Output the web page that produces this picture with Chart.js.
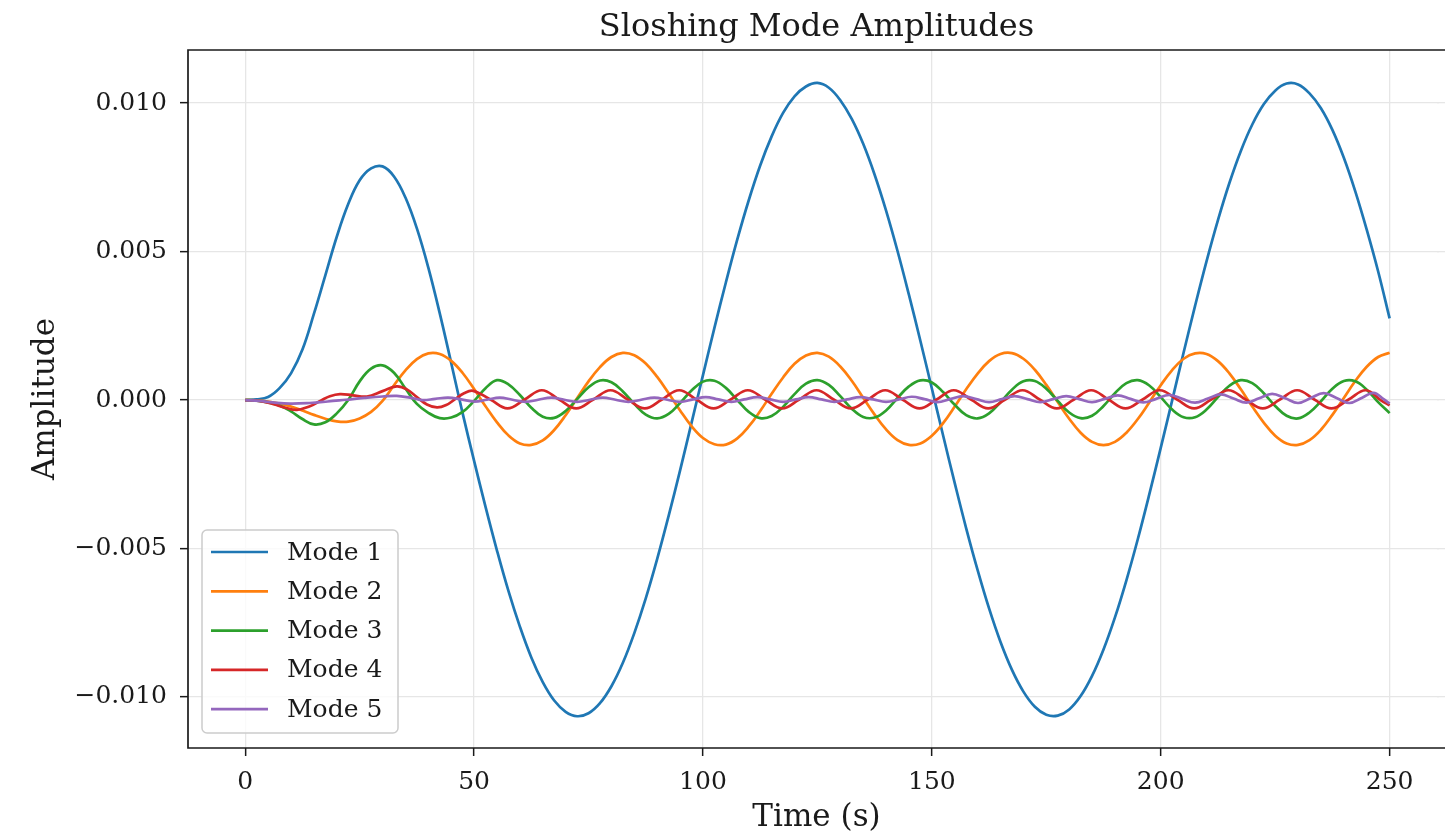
<!DOCTYPE html>
<html>
<head>
<meta charset="utf-8">
<script src="https://cdn.jsdelivr.net/npm/chart.js@4.4.1/dist/chart.umd.min.js"></script>
<style>
  html, body { margin: 0; padding: 0; background: #fff; overflow: hidden; }
  #wrap { width: 1445px; height: 837px; }
</style>
</head>
<body>
<div id="wrap"><canvas id="chart" width="1445" height="837"></canvas></div>
<script>
// time samples (s) for modes 1-3
const timeA = [
  0, 2.5, 5, 7.5, 10, 12.5, 15, 17.5, 20, 22.5,
  25, 27.5, 30, 32.5, 35, 37.5, 40, 42.5, 45, 47.5,
  50, 52.5, 55, 57.5, 60, 62.5, 65, 67.5, 70, 72.5,
  75, 77.5, 80, 82.5, 85, 87.5, 90, 92.5, 95, 97.5,
  100, 102.5, 105, 107.5, 110, 112.5, 115, 117.5, 120, 122.5,
  125, 127.5, 130, 132.5, 135, 137.5, 140, 142.5, 145, 147.5,
  150, 152.5, 155, 157.5, 160, 162.5, 165, 167.5, 170, 172.5,
  175, 177.5, 180, 182.5, 185, 187.5, 190, 192.5, 195, 197.5,
  200, 202.5, 205, 207.5, 210, 212.5, 215, 217.5, 220, 222.5,
  225, 227.5, 230, 232.5, 235, 237.5, 240, 242.5, 245, 247.5,
  250
];

const mode1 = [
  0, 0.00002, 0.0001, 0.0004, 0.0009, 0.0017, 0.0029, 0.0042, 0.0055, 0.0066,
  0.0074, 0.0078, 0.00787, 0.00753, 0.00682, 0.00578, 0.00446, 0.00292, 0.00125, -0.00045,
  -0.00205, -0.0036, -0.00507, -0.00643, -0.00763, -0.00867, -0.0095, -0.01012, -0.0105, -0.01065,
  -0.01055, -0.01021, -0.00964, -0.00885, -0.00785, -0.00668, -0.00535, -0.0039, -0.00237, -0.00077,
  0.00084, 0.00243, 0.00396, 0.00541, 0.00673, 0.0079, 0.00888, 0.00967, 0.01023, 0.01056,
  0.01068, 0.01052, 0.0101, 0.00947, 0.00863, 0.00759, 0.00638, 0.00502, 0.00354, 0.00199,
  0.00039, -0.00122, -0.0028, -0.00432, -0.00573, -0.00702, -0.00815, -0.00909, -0.00982, -0.01033,
  -0.0106, -0.01063, -0.01042, -0.00997, -0.00929, -0.0084, -0.00732, -0.00607, -0.00468, -0.00318,
  -0.00161, -0.00001, 0.0016, 0.00317, 0.00467, 0.00606, 0.00731, 0.00839, 0.00928, 0.00996,
  0.01042, 0.01066, 0.01063, 0.01033, 0.00983, 0.0091, 0.00816, 0.00703, 0.00574, 0.00433,
  0.00275
];

const mode2 = [
  0, -0.00001, -0.00005, -0.00012, -0.00022, -0.00035, -0.0005, -0.00063, -0.00072, -0.00073,
  -0.00062, -0.0004, -0.00003, 0.0005, 0.001, 0.00138, 0.00157, 0.00155, 0.00132, 0.00091,
  0.00037, -0.00021, -0.00075, -0.00119, -0.00146, -0.00151, -0.00136, -0.00101, -0.00051, 0.00006,
  0.00063, 0.00111, 0.00145, 0.00159, 0.00151, 0.00123, 0.00078, 0.00023, -0.00035, -0.00088,
  -0.00128, -0.00149, -0.0015, -0.00129, -0.00089, -0.00037, 0.00021, 0.00076, 0.00122, 0.0015,
  0.00159, 0.00146, 0.00113, 0.00065, 0.00008, -0.00049, -0.00099, -0.00135, -0.00151, -0.00146,
  -0.0012, -0.00077, -0.00022, 0.00036, 0.00089, 0.00131, 0.00155, 0.00158, 0.00139, 0.00102,
  0.00051, -0.00007, -0.00063, -0.0011, -0.00141, -0.00152, -0.00141, -0.0011, -0.00064, -0.00008,
  0.0005, 0.00101, 0.00139, 0.00157, 0.00155, 0.00131, 0.0009, 0.00036, -0.00022, -0.00076,
  -0.0012, -0.00146, -0.00151, -0.00135, -0.001, -0.0005, 0.00007, 0.00064, 0.00112, 0.00145,
  0.00159
];

const mode3 = [
  0, -0.00002, -0.00008, -0.00018, -0.00038, -0.00064, -0.00082, -0.00075, -0.00045, 0,
  0.00063, 0.00106, 0.00117, 0.00092, 0.00039, -0.00013, -0.00043, -0.00061, -0.00059, -0.0004,
  -0.00003, 0.0004, 0.00067, 0.00053, 0.00017, -0.00026, -0.00056, -0.0006, -0.00037, 0.00003,
  0.00043, 0.00066, 0.0006, 0.00029, -0.00013, -0.00049, -0.00062, -0.00047, -0.0001, 0.00032,
  0.00062, 0.00065, 0.00041, 0, -0.0004, -0.00061, -0.00054, -0.00023, 0.0002, 0.00055,
  0.00067, 0.00051, 0.00013, -0.00029, -0.00057, -0.00059, -0.00035, 0.00007, 0.00046, 0.00066,
  0.00059, 0.00026, -0.00016, -0.00051, -0.00062, -0.00045, -0.00007, 0.00035, 0.00063, 0.00064,
  0.00038, -0.00003, -0.00042, -0.00061, -0.00053, -0.0002, 0.00023, 0.00057, 0.00067, 0.00049,
  0.0001, -0.00032, -0.00058, -0.00058, -0.00032, 0.0001, 0.00048, 0.00067, 0.00057, 0.00023,
  -0.0002, -0.00053, -0.00062, -0.00042, -0.00004, 0.00038, 0.00064, 0.00063, 0.00035, -0.00007,
  -0.00044
];

// modes 4 and 5 are read at their turning points and crossings
const mode4Time = [
  0, 3, 6, 9, 11.3, 14, 16.5, 18.5, 20.7, 23.5, 26.6, 30, 33.1, 35.3, 37.5, 39.7, 41.9, 43.9, 45.85, 47.8, 49.8,
  53.55, 57.3, 61.05, 64.8, 68.55, 72.3, 76.05, 79.8, 83.55, 87.3, 91.05, 94.8,
  98.55, 102.3, 106.05, 109.8, 113.55, 117.3, 121.05, 124.8, 128.55, 132.3, 136.05, 139.8,
  143.55, 147.3, 151.05, 154.8, 158.55, 162.3, 166.05, 169.8, 173.55, 177.3, 181.05, 184.8,
  188.55, 192.3, 196.05, 199.8, 203.55, 207.3, 211.05, 214.8, 218.55, 222.3, 226.05, 229.8,
  233.55, 237.3, 241.05, 244.8, 248.2, 250
];
const mode4 = [
  0, -0.00003, -0.00013, -0.00027, -0.00033, -0.00022, -0.00002, 0.00013, 0.0002, 0.00016, 0.00012, 0.0003, 0.00046, 0.00036, 0.0001, -0.00015, -0.00025, -0.00017, 0.00003, 0.00023, 0.00031,
  0.00002, -0.00028, 0.00002, 0.00033, 0.00002, -0.00028, 0.00002, 0.00033, 0.00002, -0.00028, 0.00002, 0.00033,
  0.00002, -0.00028, 0.00002, 0.00033, 0.00002, -0.00028, 0.00002, 0.00033, 0.00002, -0.00028, 0.00002, 0.00033,
  0.00002, -0.00028, 0.00002, 0.00033, 0.00002, -0.00028, 0.00002, 0.00033, 0.00002, -0.00028, 0.00002, 0.00033,
  0.00002, -0.00028, 0.00002, 0.00033, 0.00002, -0.00028, 0.00002, 0.00033, 0.00002, -0.00028, 0.00002, 0.00033,
  0.00002, -0.00028, 0.00002, 0.00033, -0.00002, -0.00018
];

const mode5Time = [
  0, 3, 6, 9.8, 14, 18, 22, 26, 30, 33.1, 36, 38.7, 41.5, 44.35, 47.2, 49.98,
  52.8, 55.6, 58.4, 61.2, 64, 66.85, 69.7, 72.5, 75.3, 78.1, 80.9, 83.7, 86.5, 89.35, 92.2, 95,
  97.8, 100.6, 103.4, 106.2, 109, 111.85, 114.7, 117.5, 120.3, 123.1, 125.9, 128.7, 131.5, 134.35, 137.2, 140,
  142.8, 145.6, 148.4, 151.2, 154, 156.85, 159.7, 162.5, 165.3, 168.1, 170.9, 173.7, 176.5, 179.35, 182.2, 185,
  187.8, 190.6, 193.4, 196.2, 199, 201.85, 204.7, 207.5, 210.3, 213.1, 215.9, 218.7, 221.5, 224.35, 227.2, 230,
  232.8, 235.6, 238.4, 241.2, 244, 246.5, 248.6, 250
];
const mode5 = [
  0, -0.00003, -0.00008, -0.00012, -0.0001, -0.00005, 0.00001, 0.00007, 0.00012, 0.00014, 0.00008, 0, 0.00004, 0.00008, 0.00002, -0.00005,
  0.00001, 0.00008, 0.00001, -0.00006, 0.00001, 0.00008, 0.00001, -0.00006, 0.00001, 0.00008, 0.00001, -0.00006, 0.00001, 0.00008, 0.00001, -0.00006,
  0.00002, 0.0001, 0.00002, -0.00006, 0.00002, 0.0001, 0.00002, -0.00006, 0.00002, 0.0001, 0.00002, -0.00006, 0.00002, 0.0001, 0.00002, -0.00006,
  0.00002, 0.00011, 0.00003, -0.00007, 0.00003, 0.00013, 0.00003, -0.00007, 0.00003, 0.00013, 0.00003, -0.00007, 0.00003, 0.00013, 0.00003, -0.00007,
  0.00004, 0.00016, 0.00004, -0.00008, 0.00004, 0.00017, 0.00004, -0.00009, 0.00005, 0.00019, 0.00005, -0.00009, 0.00006, 0.00021, 0.00006, -0.0001,
  0.00007, 0.00023, 0.00007, -0.0001, 0.00008, 0.00024, 0.00004, -0.00012
];

const seriesNames = ['Mode 1', 'Mode 2', 'Mode 3', 'Mode 4', 'Mode 5'];
const seriesColors = ['#1f77b4', '#ff7f0e', '#2ca02c', '#d62728', '#9467bd'];

// the axes box runs just past the right edge of the picture
const xMin = -12.5, xMax = 262.1;
const yMin = -0.01172, yMax = 0.01179;
const xTicks = [0, 50, 100, 150, 200, 250];
const xTickLabels = ['0', '50', '100', '150', '200', '250'];
const yTicks = [-0.01, -0.005, 0, 0.005, 0.01];
const yTickLabels = ['\u22120.010', '\u22120.005', '0.000', '0.005', '0.010'];

const pts = (ts, vs) => ts.map((t, i) => ({ x: t, y: vs[i] }));
const seriesData = [
  pts(timeA, mode1), pts(timeA, mode2), pts(timeA, mode3),
  pts(mode4Time, mode4), pts(mode5Time, mode5)
];

Chart.defaults.font.family = "'DejaVu Serif', serif";
Chart.defaults.color = '#1a1a1a';

const GRID = '#e6e6e6', GRID_W = 1.3;

// left, top and bottom spines; the right edge is open, as in the cropped original
const frame = {
  id: 'frame',
  afterDatasetsDraw(chart) {
    const { ctx, chartArea: a, width } = chart;
    const ys = chart.scales.y;
    ctx.save();
    // blank the strip at the right edge and carry the grid lines through it
    ctx.fillStyle = '#fff';
    ctx.fillRect(a.right - 6, a.top + 1, width - a.right + 6, a.bottom - a.top - 2);
    ctx.strokeStyle = GRID;
    ctx.lineWidth = GRID_W;
    ys.ticks.forEach((t, i) => {
      const p = ys.getPixelForTick(i);
      const py = Math.round(p - GRID_W / 2) + GRID_W / 2;
      ctx.beginPath(); ctx.moveTo(a.right - 8, py); ctx.lineTo(width, py); ctx.stroke();
    });
    ctx.strokeStyle = '#1a1a1a';
    ctx.lineWidth = 1.7;
    ctx.beginPath();
    ctx.moveTo(width, a.top);
    ctx.lineTo(a.left, a.top);
    ctx.lineTo(a.left, a.bottom);
    ctx.lineTo(width, a.bottom);
    ctx.stroke();
    ctx.restore();
  }
};

// legend box inside the lower-left corner
const insetLegend = {
  id: 'insetLegend',
  afterDraw(chart) {
    const { ctx, chartArea: a } = chart;
    const sets = chart.data.datasets;
    const w = 196, h = 203, rowH = 39.3;
    const x = a.left + 14, y = a.bottom - 15 - h;
    ctx.save();
    ctx.fillStyle = 'rgba(255,255,255,0.8)';
    ctx.strokeStyle = '#cccccc';
    ctx.lineWidth = 1.5;
    ctx.beginPath();
    if (ctx.roundRect) ctx.roundRect(x, y, w, h, 5); else ctx.rect(x, y, w, h);
    ctx.fill();
    ctx.stroke();
    ctx.font = "25px 'DejaVu Serif'";
    ctx.textBaseline = 'middle';
    sets.forEach((d, i) => {
      const cy = y + 22 + i * rowH;
      ctx.strokeStyle = d.borderColor;
      ctx.lineWidth = d.borderWidth;
      ctx.beginPath();
      ctx.moveTo(x + 9, cy);
      ctx.lineTo(x + 66, cy);
      ctx.stroke();
      ctx.fillStyle = '#1a1a1a';
      ctx.fillText(d.label, x + 85, cy + 1);
    });
    ctx.restore();
  }
};

new Chart(document.getElementById('chart'), {
  type: 'line',
  data: {
    datasets: seriesData.map((d, i) => ({
      label: seriesNames[i],
      data: d,
      borderColor: seriesColors[i],
      backgroundColor: seriesColors[i],
      borderWidth: 2.7,
      pointRadius: 0,
      tension: 0.4,
      fill: false,
      order: seriesNames.length - i
    }))
  },
  options: {
    responsive: false,
    animation: false,
    events: [],
    layout: { padding: 0 },
    plugins: {
      legend: { display: false },
      tooltip: { enabled: false },
      title: {
        display: true, fullSize: false, text: 'Sloshing Mode Amplitudes', color: '#1a1a1a',
        font: { size: 32, weight: 'normal' }, padding: { top: 8, bottom: 3.6 }
      }
    },
    scales: {
      x: {
        type: 'linear', min: xMin, max: xMax,
        afterBuildTicks: s => { s.ticks = xTicks.map(v => ({ value: v })); },
        afterFit: s => { s.height = 89; },
        border: { display: false },
        grid: { color: GRID, lineWidth: GRID_W, tickColor: '#1a1a1a', tickLength: 8, tickWidth: 1.5 },
        ticks: { font: { size: 25 }, padding: 11, maxRotation: 0, autoSkip: false,
                 callback: (v, i) => xTickLabels[i] },
        title: { display: true, text: 'Time (s)', font: { size: 31 }, padding: { top: 0, bottom: 0 } }
      },
      y: {
        type: 'linear', min: yMin, max: yMax,
        afterBuildTicks: s => { s.ticks = yTicks.map(v => ({ value: v })); },
        afterFit: s => { s.width = 188; },
        border: { display: false },
        grid: { color: GRID, lineWidth: GRID_W, tickColor: '#1a1a1a', tickLength: 8, tickWidth: 1.5 },
        ticks: { font: { size: 25 }, padding: 13, autoSkip: false,
                 callback: (v, i) => yTickLabels[i] },
        title: { display: true, text: 'Amplitude', font: { size: 31 }, padding: { top: 27, bottom: 0 } }
      }
    }
  },
  plugins: [frame, insetLegend]
});
</script>
</body>
</html>
